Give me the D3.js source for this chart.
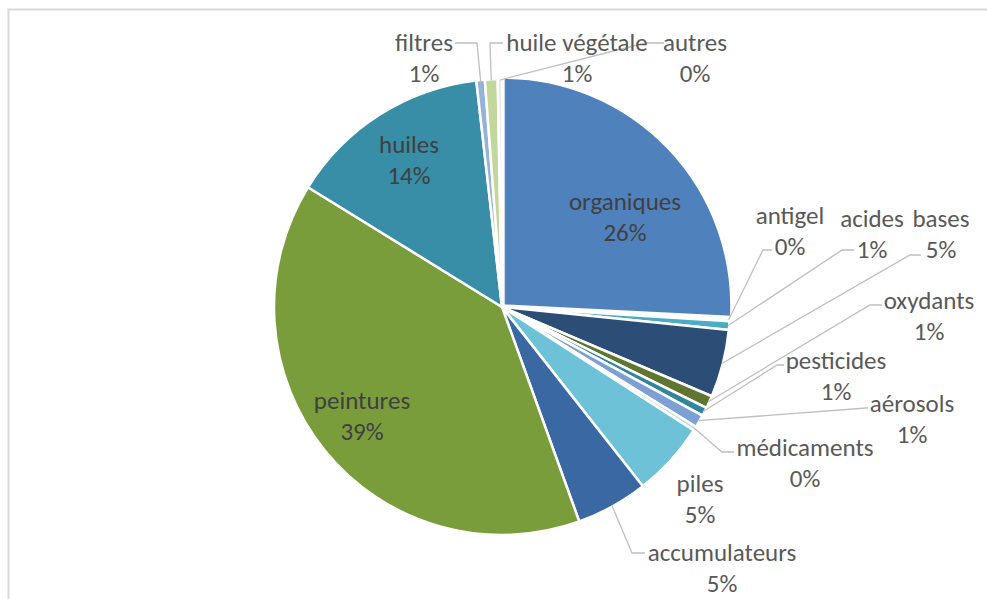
<!DOCTYPE html>
<html>
<head>
<meta charset="utf-8">
<script src="https://cdn.jsdelivr.net/npm/d3@7"></script>
<style>
  body { margin: 0; background: #fff; }
  svg { display: block; }
</style>
</head>
<body>
<svg id="pie-chart"></svg>
<script>
// --- Data ---
const categories = ["organiques", "antigel", "acides", "bases", "oxydants", "pesticides",
    "aérosols", "médicaments", "piles", "accumulateurs", "peintures", "huiles",
    "filtres", "huile végétale", "autres"];
const values = [25.8, 0.2, 0.6, 4.8, 0.9, 0.6, 0.9, 0.3, 5.3, 5.1, 39.3, 14.4, 0.6, 0.9, 0.3];
const sliceColors = ["#4f81bd", "#b9cde5", "#4bacc6", "#2c4d75", "#5f7530", "#31859c",
    "#7da0d4", "#b7dee8", "#6dc2d8", "#3a68a2", "#7a9d3c", "#378ea6",
    "#95b3d7", "#c3d69b", "#e6e6e6"];

const data = categories.map((c, i) => ({ name: c, value: values[i], color: sliceColors[i] }));

// --- 1. Setup ---
const width = 987, height = 599;
const cx = 502, cy = 307, radius = 228;

const svg = d3.select("#pie-chart")
    .attr("width", width)
    .attr("height", height);

// chart area frame (only top and left edges are visible)
svg.append("rect")
    .attr("x", 8.5).attr("y", 9.5)
    .attr("width", 1200).attr("height", 800)
    .attr("fill", "#fff")
    .attr("stroke", "#d9d9d9")
    .attr("stroke-width", 2);

const g = svg.append("g").attr("transform", `translate(${cx},${cy})`);

// --- 2. Pie ---
const total = d3.sum(values);
const pie = d3.pie().value(d => d.value).sort(null);
const arcs = pie(data);
const arc = d3.arc().innerRadius(0).outerRadius(radius);

g.selectAll("path.slice")
    .data(arcs)
    .join("path")
    .attr("class", "slice")
    .attr("d", arc)
    .attr("transform", d => {
        // organiques is pulled out a little
        if (d.data.name !== "organiques") return null;
        const a = (d.startAngle + d.endAngle) / 2;
        return `translate(${2 * Math.sin(a)},${-2 * Math.cos(a)})`;
    })
    .attr("fill", d => d.data.color)
    .attr("stroke", "#fff")
    .attr("stroke-width", 2.5)
    .attr("stroke-linejoin", "round");

// --- 3. Labels ---
// text position (centre of first line) and optional leader [attachX, elbowX, y]
const labelLayout = {
    "organiques":     { x: 625, y: 201, inside: true },
    "antigel":        { x: 790, y: 215, lead: [772, 763, 250] },
    "acides":         { x: 872, y: 218, lead: [854, 842, 250] },
    "bases":          { x: 941, y: 218, lead: [921, 910, 255] },
    "oxydants":       { x: 929, y: 300, lead: [882, 870, 305] },
    "pesticides":     { x: 836, y: 360, lead: [784, 777, 365] },
    "aérosols":       { x: 912, y: 403, lead: [868, 866, 408] },
    "médicaments":    { x: 805, y: 447, lead: [734, 722, 452] },
    "piles":          { x: 700, y: 483 },
    "accumulateurs":  { x: 722, y: 552, lead: [645, 632, 553] },
    "peintures":      { x: 362, y: 400, inside: true },
    "huiles":         { x: 409, y: 144, inside: true },
    "filtres":        { x: 424, y: 42,  lead: [455, 477, 43] },
    "huile végétale": { x: 577, y: 42,  lead: [503, 490, 43] },
    "autres":         { x: 695, y: 42,  lead: [664, 645, 43] }
};

const lineGap = 31;
const pct = d => `${Math.round(d.value / total * 100)}%`;

// leader lines
svg.append("g")
    .selectAll("polyline")
    .data(arcs.filter(d => labelLayout[d.data.name].lead))
    .join("polyline")
    .attr("points", d => {
        const [ax, ex, ly] = labelLayout[d.data.name].lead;
        const a = (d.startAngle + d.endAngle) / 2;
        const px = cx + (radius - 1) * Math.sin(a);
        const py = cy - (radius - 1) * Math.cos(a);
        return `${px},${py} ${ex},${ly} ${ax},${ly}`;
    })
    .attr("fill", "none")
    .attr("stroke", "#bfbfbf")
    .attr("stroke-width", 1.3);

const labels = svg.append("g")
    .selectAll("text")
    .data(arcs)
    .join("text")
    .attr("text-anchor", "middle")
    .style("font-family", "Carlito, Lato, sans-serif")
    .style("font-size", "25px")
    .style("fill", d => labelLayout[d.data.name].inside ? "#404040" : "#595959");

labels.append("tspan")
    .attr("x", d => labelLayout[d.data.name].x)
    .attr("y", d => labelLayout[d.data.name].y)
    .attr("dy", "0.35em")
    .text(d => d.data.name);

labels.append("tspan")
    .attr("x", d => labelLayout[d.data.name].x)
    .attr("y", d => labelLayout[d.data.name].y + lineGap)
    .attr("dy", "0.35em")
    .text(d => pct(d.data));
</script>
</body>
</html>
